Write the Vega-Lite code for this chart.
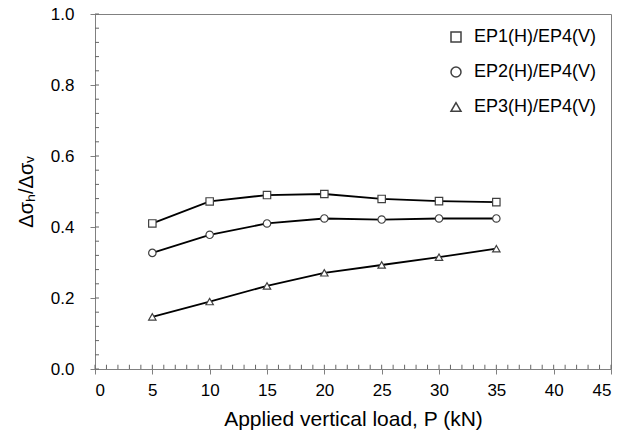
{
  "$schema": "https://vega.github.io/schema/vega-lite/v6.json",
  "width": 516,
  "height": 355,
  "autosize": {"type": "none"},
  "padding": {"left": 95, "top": 14, "right": 18, "bottom": 70},
  "background": "white",
  "config": {
    "view": {"stroke": "#808080", "strokeWidth": 1},
    "font": "Liberation Sans",
    "axis": {"grid": false, "domainColor": "#808080", "tickColor": "#808080", "labelColor": "black", "titleColor": "black", "labelFont": "Liberation Sans", "titleFont": "Liberation Sans", "titleFontWeight": "normal"}
  },
  "datasets": {
    "series": [
      {"P": 5, "r": 0.410, "s": "EP1(H)/EP4(V)"},
      {"P": 10, "r": 0.472, "s": "EP1(H)/EP4(V)"},
      {"P": 15, "r": 0.490, "s": "EP1(H)/EP4(V)"},
      {"P": 20, "r": 0.493, "s": "EP1(H)/EP4(V)"},
      {"P": 25, "r": 0.479, "s": "EP1(H)/EP4(V)"},
      {"P": 30, "r": 0.473, "s": "EP1(H)/EP4(V)"},
      {"P": 35, "r": 0.470, "s": "EP1(H)/EP4(V)"},
      {"P": 5, "r": 0.327, "s": "EP2(H)/EP4(V)"},
      {"P": 10, "r": 0.378, "s": "EP2(H)/EP4(V)"},
      {"P": 15, "r": 0.410, "s": "EP2(H)/EP4(V)"},
      {"P": 20, "r": 0.424, "s": "EP2(H)/EP4(V)"},
      {"P": 25, "r": 0.421, "s": "EP2(H)/EP4(V)"},
      {"P": 30, "r": 0.424, "s": "EP2(H)/EP4(V)"},
      {"P": 35, "r": 0.424, "s": "EP2(H)/EP4(V)"},
      {"P": 5, "r": 0.147, "s": "EP3(H)/EP4(V)"},
      {"P": 10, "r": 0.190, "s": "EP3(H)/EP4(V)"},
      {"P": 15, "r": 0.234, "s": "EP3(H)/EP4(V)"},
      {"P": 20, "r": 0.271, "s": "EP3(H)/EP4(V)"},
      {"P": 25, "r": 0.293, "s": "EP3(H)/EP4(V)"},
      {"P": 30, "r": 0.315, "s": "EP3(H)/EP4(V)"},
      {"P": 35, "r": 0.339, "s": "EP3(H)/EP4(V)"}
    ],
    "xminor": [{"t":0},{"t":1},{"t":2},{"t":3},{"t":4},{"t":5},{"t":6},{"t":7},{"t":8},{"t":9},{"t":10},{"t":11},{"t":12},{"t":13},{"t":14},{"t":15},{"t":16},{"t":17},{"t":18},{"t":19},{"t":20},{"t":21},{"t":22},{"t":23},{"t":24},{"t":25},{"t":26},{"t":27},{"t":28},{"t":29},{"t":30},{"t":31},{"t":32},{"t":33},{"t":34},{"t":35},{"t":36},{"t":37},{"t":38},{"t":39},{"t":40},{"t":41},{"t":42},{"t":43},{"t":44},{"t":45}],
    "yminor": [{"t":0},{"t":0.04},{"t":0.08},{"t":0.12},{"t":0.16},{"t":0.2},{"t":0.24},{"t":0.28},{"t":0.32},{"t":0.36},{"t":0.4},{"t":0.44},{"t":0.48},{"t":0.52},{"t":0.56},{"t":0.6},{"t":0.64},{"t":0.68},{"t":0.72},{"t":0.76},{"t":0.8},{"t":0.84},{"t":0.88},{"t":0.92},{"t":0.96},{"t":1}]
  },
  "layer": [
    {
      "data": {"name": "xminor"},
      "mark": {"type": "rule", "color": "#666666", "strokeWidth": 1},
      "encoding": {
        "x": {"field": "t", "type": "quantitative"},
        "y": {"datum": 0, "type": "quantitative"},
        "y2": {"datum": 0.012}
      }
    },
    {
      "data": {"name": "yminor"},
      "mark": {"type": "rule", "color": "#666666", "strokeWidth": 1},
      "encoding": {
        "y": {"field": "t", "type": "quantitative"},
        "x": {"datum": 0, "type": "quantitative"},
        "x2": {"datum": 0.35}
      }
    },
    {
      "data": {"name": "series"},
      "mark": {"type": "line", "color": "black", "strokeWidth": 1.8},
      "encoding": {
        "x": {"field": "P", "type": "quantitative"},
        "y": {"field": "r", "type": "quantitative"},
        "detail": {"field": "s"}
      }
    },
    {
      "data": {"name": "series"},
      "mark": {"type": "point", "filled": false, "fill": "white", "fillOpacity": 1, "stroke": "#404040", "strokeWidth": 1.2, "opacity": 1, "size": 55},
      "encoding": {
        "x": {"field": "P", "type": "quantitative"},
        "y": {"field": "r", "type": "quantitative"},
        "shape": {"field": "s", "type": "nominal",
          "scale": {"domain": ["EP1(H)/EP4(V)", "EP2(H)/EP4(V)", "EP3(H)/EP4(V)"], "range": ["square", "circle", "triangle-up"]},
          "legend": {
            "title": null, "orient": "top-right", "offset": 14,
            "labelFontSize": 18, "labelFont": "Liberation Sans", "labelColor": "black",
            "rowPadding": 17, "labelOffset": 9
          }
        }
      }
    }
  ],
  "encoding": {
    "x": {"scale": {"domain": [0, 45], "nice": false, "zero": false},
      "axis": {"orient": "bottom", "values": [0,5,10,15,20,25,30,35,40,45], "tickSize": 5, "labelFontSize": 17, "labelPadding": 8, "title": "Applied vertical load, P (kN)", "titleFontSize": 21, "titlePadding": 10}},
    "y": {"scale": {"domain": [0, 1], "nice": false, "zero": false},
      "axis": {"orient": "left", "values": [0,0.2,0.4,0.6,0.8,1], "format": ".1f", "tickSize": 5, "labelFontSize": 17, "labelPadding": 16, "title": "Δσₕ/Δσᵥ", "titleFontSize": 20, "titlePadding": 14}}
  }
}
